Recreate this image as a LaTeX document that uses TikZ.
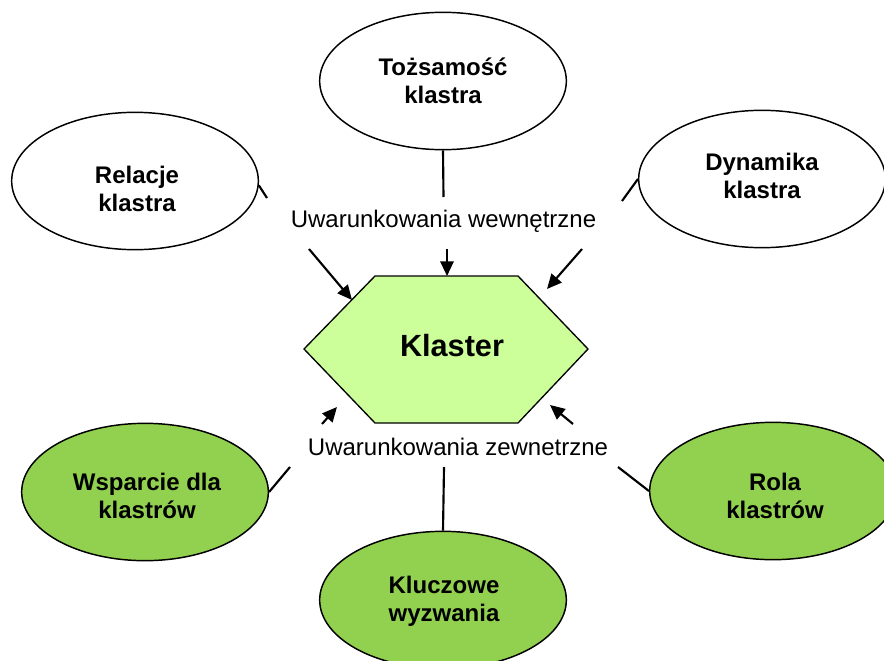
\documentclass[tikz,border=0pt]{standalone}
\usepackage{fontspec}
\setmainfont{Liberation Sans}
\usetikzlibrary{shapes.geometric,arrows.meta}
\definecolor{hexfill}{HTML}{CCFF99}
\definecolor{ellgreen}{HTML}{92D050}
\begin{document}
\begin{tikzpicture}[x=0.75pt,y=-0.75pt,
  bubble/.style={ellipse, draw, line width=1.1pt, minimum width=185pt, minimum height=103pt,
    inner sep=0pt},
  whiteb/.style={bubble, fill=white},
  greenb/.style={bubble, fill=ellgreen},
  btext/.style={align=center, inner sep=0pt, font=\bfseries\fontsize{18}{21}\selectfont},
  arr/.style={line width=1.6pt, -{Triangle[length=11pt,width=10pt]}},
  stub/.style={line width=1.6pt},
  lbl/.style={font=\fontsize{18}{21}\selectfont, inner sep=0pt, anchor=base}]
\useasboundingbox (0,0) rectangle (884,660);
\clip (0,0) rectangle (884,660);

% outer bubbles
\node[whiteb] (tozs) at (443,81) {};
\node[btext] (tozst) at (443,81) {Tożsamość\\klastra};
\node[whiteb] (rel) at (135,181) {};
\node[btext] (relt) at (137,189) {Relacje\\klastra};
\node[whiteb] (dyn) at (762,179) {};
\node[btext] (dynt) at (762,176) {Dynamika\\klastra};
\node[greenb] (wsp) at (145,492) {};
\node[btext] (wspt) at (147,496) {Wsparcie dla\\klastrów};
\node[greenb] (klu) at (443,600) {};
\node[btext] (klut) at (444,601) {Kluczowe\\wyzwania};
\node[greenb] (rola) at (773,491) {};
\node[btext] (rolat) at (775,496) {Rola\\klastrów};

% central hexagon
\draw[fill=hexfill, line width=1pt] (304,349) -- (375,276) -- (518,276) -- (588,349)
  -- (518,423) -- (375,423) -- cycle;
\node[font=\bfseries\fontsize{23}{26}\selectfont, inner sep=0pt] (klaster) at (452,346) {Klaster};

% labels
\node[lbl] (wew) at (443.5,227) {Uwarunkowania wewnętrzne};
\begin{scope}
  \clip (290,425) rectangle (630,455.5);
  \node[lbl] (zew) at (458,455) {Uwarunkowania zewnetrzne};
\end{scope}

% stub ends
\coordinate (relend) at (267,198);
\coordinate (tzend) at (443.5,197);
\coordinate (dynend) at (622,201);
\coordinate (wspend) at (290,467);
\coordinate (kluend) at (444,467);
\coordinate (rolaend) at (618,467);

\draw[stub] (rel.-2) -- (relend);
\draw[stub] (tozs.south) -- (tzend);
\draw[stub] (dyn.west) -- (dynend);
\draw[stub] (wsp.east) -- (wspend);
\draw[stub] (klu.north) -- (kluend);
\draw[stub] (rola.west) -- (rolaend);

% arrows into the hexagon
\coordinate (a1s) at (309,249); \coordinate (a1e) at (352,300);
\coordinate (a2s) at (447,249); \coordinate (a2e) at (447,276);
\coordinate (a3s) at (582,249); \coordinate (a3e) at (547,289);
\coordinate (a4s) at (322,424); \coordinate (a4e) at (337,407);
\coordinate (a5s) at (573,424); \coordinate (a5e) at (550,405);
\draw[arr] (a1s) -- (a1e);
\draw[arr] (a2s) -- (a2e);
\draw[arr] (a3s) -- (a3e);
\draw[arr] (a4s) -- (a4e);
\draw[arr] (a5s) -- (a5e);
\end{tikzpicture}
\end{document}
